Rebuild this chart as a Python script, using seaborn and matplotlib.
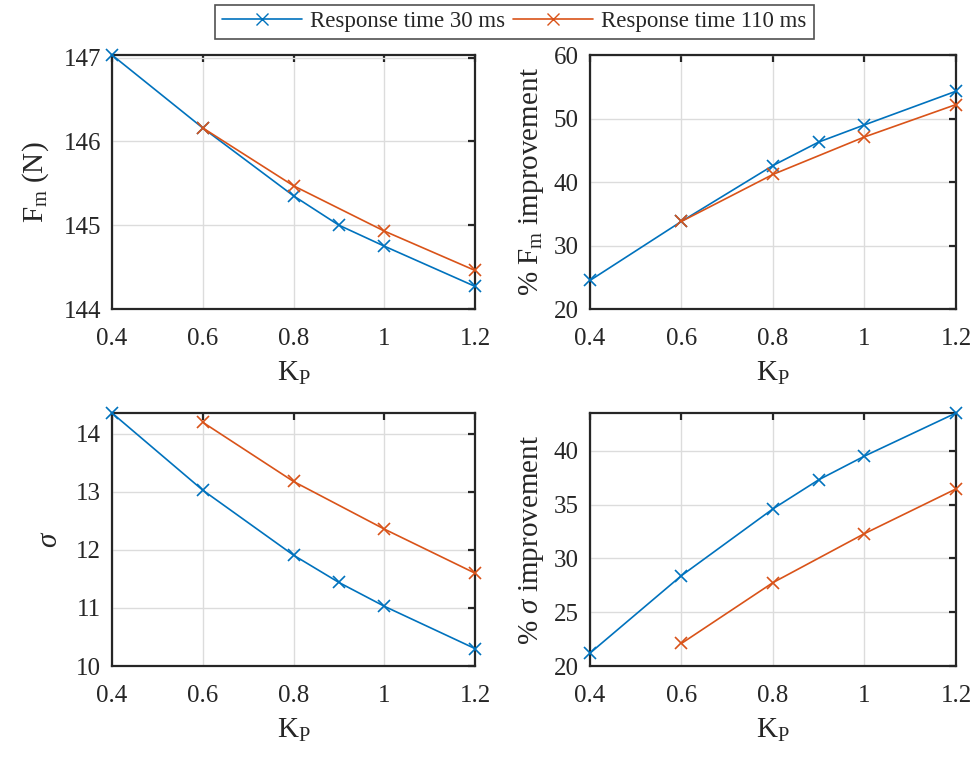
import matplotlib
matplotlib.use("Agg")
import matplotlib.pyplot as plt
from matplotlib.lines import Line2D
import pandas as pd
import seaborn as sns

# K_P values for the two response times
kp_30 = [0.4, 0.6, 0.8, 0.9, 1.0, 1.2]
kp_110 = [0.6, 0.8, 1.0, 1.2]

# Peak force F_m (N)
fm_30 = [147.03, 146.16, 145.35, 145.0, 144.75, 144.27]
fm_110 = [146.16, 145.47, 144.93, 144.46]

# % F_m improvement
fm_imp_30 = [24.5, 33.8, 42.6, 46.3, 49.0, 54.3]
fm_imp_110 = [33.8, 41.2, 47.1, 52.2]

# sigma
sig_30 = [14.36, 13.03, 11.91, 11.44, 11.03, 10.3]
sig_110 = [14.2, 13.18, 12.36, 11.6]

# % sigma improvement
sig_imp_30 = [21.2, 28.4, 34.6, 37.3, 39.5, 43.5]
sig_imp_110 = [22.1, 27.75, 32.3, 36.45]

labels = ["Response time 30 ms", "Response time 110 ms"]
colors = ["#0072BD", "#D95319"]

sns.set_style("white")
plt.rcParams["font.family"] = ["Liberation Serif", "DejaVu Serif"]
plt.rcParams["mathtext.fontset"] = "custom"
plt.rcParams["mathtext.rm"] = "Liberation Serif"
plt.rcParams["mathtext.it"] = "Liberation Serif:italic"

fig = plt.figure(figsize=(9.76, 7.57), dpi=100)

# axes boxes in figure fractions (MATLAB-like fixed layout)
boxes = [
    [0.1148, 0.5918, 0.3719, 0.3355],
    [0.6045, 0.5918, 0.3750, 0.3355],
    [0.1148, 0.1202, 0.3719, 0.3342],
    [0.6045, 0.1202, 0.3750, 0.3342],
]
panels = [
    (fm_30, fm_110, r"F$_{\mathrm{m}}$ (N)", (144, 147.03), [144, 145, 146, 147], 9),
    (fm_imp_30, fm_imp_110, r"% F$_{\mathrm{m}}$ improvement", (20, 60), [20, 30, 40, 50, 60], 6),
    (sig_30, sig_110, r"$\sigma$", (10, 14.36), [10, 11, 12, 13, 14], 9),
    (sig_imp_30, sig_imp_110, r"% $\sigma$ improvement", (20, 43.5), [20, 25, 30, 35, 40], 6),
]

for box, (y30, y110, ylab, ylim, yt, pad) in zip(boxes, panels):
    ax = fig.add_axes(box)
    df = pd.concat([
        pd.DataFrame({"kp": kp_30, "val": y30, "series": labels[0]}),
        pd.DataFrame({"kp": kp_110, "val": y110, "series": labels[1]}),
    ])
    sns.lineplot(data=df, x="kp", y="val", hue="series", palette=colors,
                 marker="x", markersize=9, markeredgewidth=1.2, linewidth=1.2,
                 ax=ax, legend=False, clip_on=False, zorder=3)
    for ln in ax.lines:
        ln.set_markeredgecolor(ln.get_color())
    ax.set_xlim(0.4, 1.2)
    ax.set_ylim(*ylim)
    ax.set_xticks([0.4, 0.6, 0.8, 1.0, 1.2])
    ax.set_xticklabels(["0.4", "0.6", "0.8", "1", "1.2"])
    ax.set_yticks(yt)
    ax.grid(True, color="#dcdcdc", linewidth=1.0)
    ax.set_axisbelow(True)
    for s in ax.spines.values():
        s.set_color("#262626")
        s.set_linewidth(1.6)
    ax.tick_params(direction="in", length=5, width=1.6, color="#262626",
                   labelsize=18, labelcolor="#262626", top=True, right=True)
    ax.tick_params(axis="x", pad=14)
    ax.tick_params(axis="y", pad=8)
    ax.set_xlabel(r"K$_{\mathrm{P}}$", fontsize=21, color="#262626", labelpad=7)
    ax.set_ylabel(ylab, fontsize=21, color="#262626", labelpad=pad)

handles = [Line2D([], [], color=c, marker="x", markersize=8, linewidth=1.2) for c in colors]
leg = fig.legend(handles, labels, loc="upper center", bbox_to_anchor=(0.527, 0.997),
                 ncol=2, fontsize=16.5, frameon=True, fancybox=False,
                 edgecolor="#262626", handlelength=3.5, columnspacing=0.35,
                 borderpad=0.3, handletextpad=0.35, borderaxespad=0.1)
leg.get_frame().set_linewidth(1.2)

fig.savefig("out.png", dpi=100)
